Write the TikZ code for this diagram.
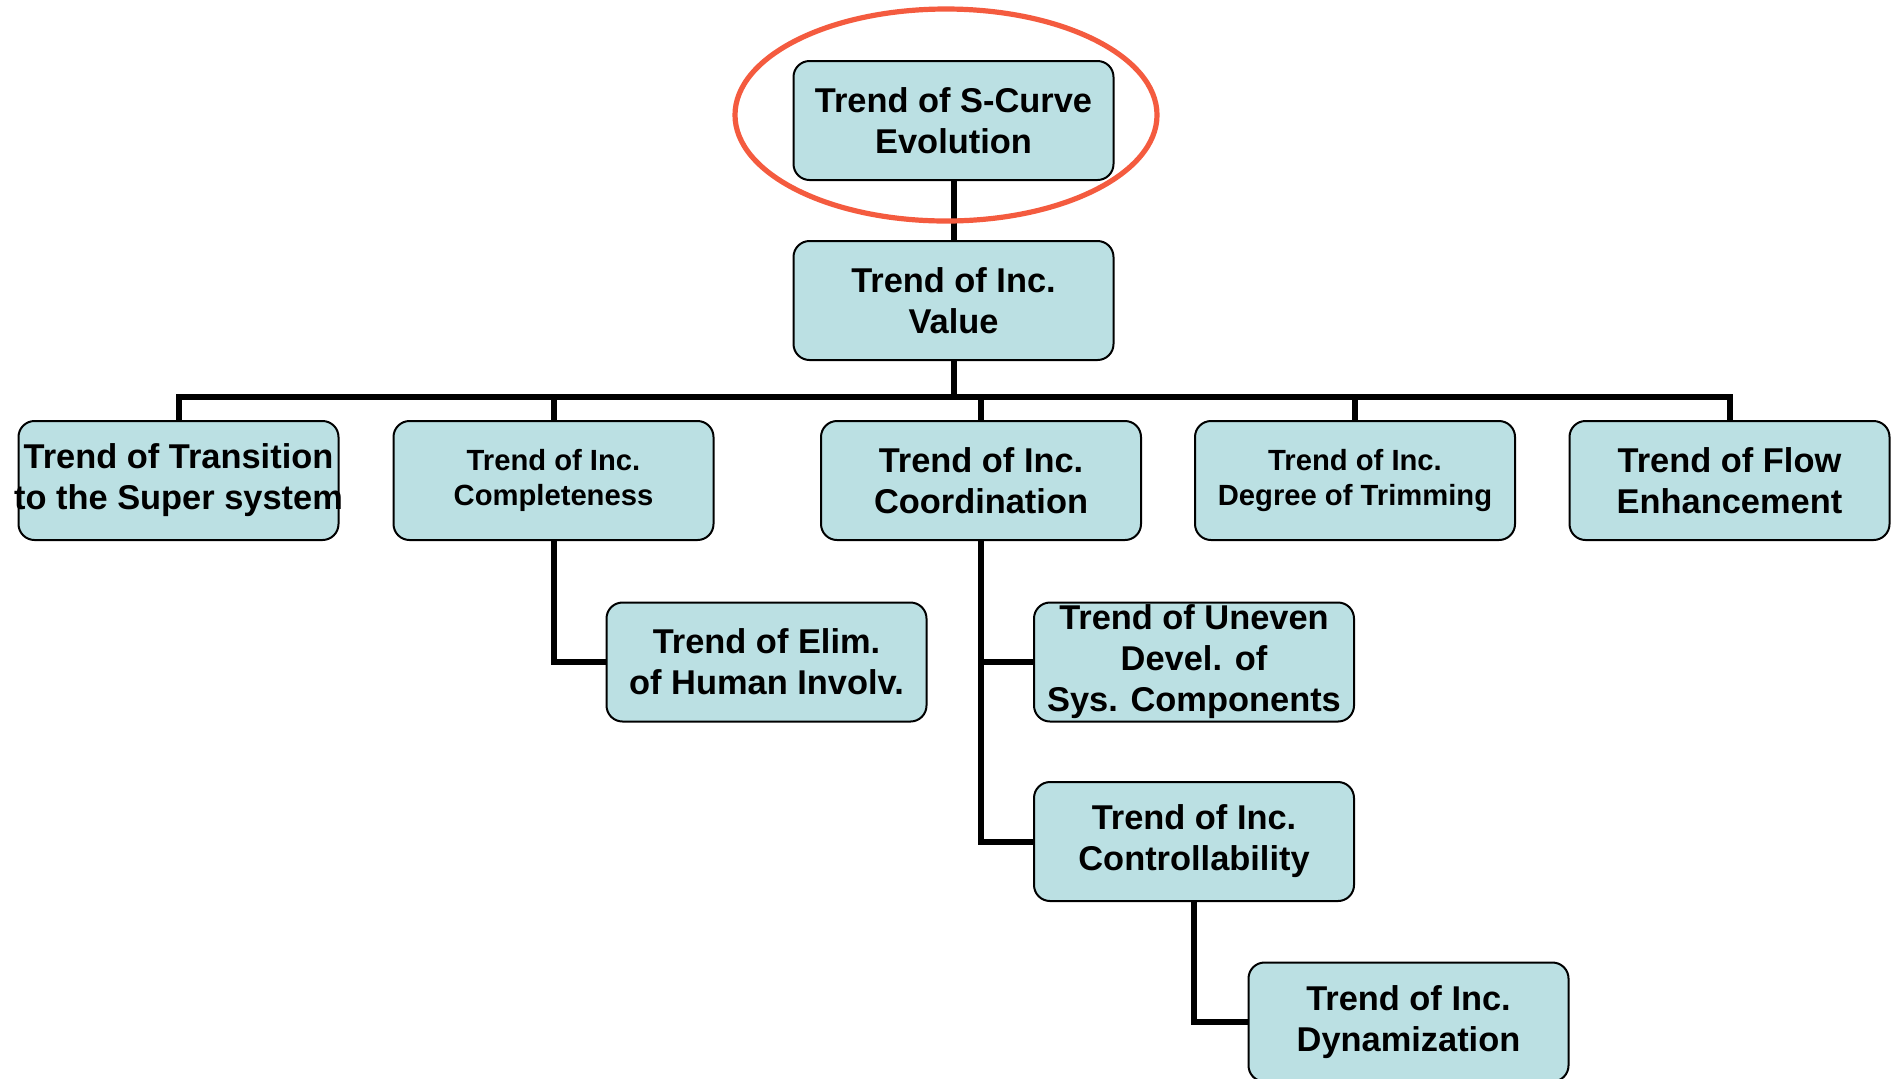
\documentclass[tikz,border=0pt]{standalone}
\usepackage{fontspec}
\setmainfont{Liberation Sans}
\definecolor{boxfill}{HTML}{BBE0E3}
\definecolor{ringred}{HTML}{F45B3F}
\begin{document}
\begin{tikzpicture}[x=0.5pt,y=-0.5pt,
  trendbox/.style={draw=black, line width=1pt, fill=boxfill, rounded corners=8pt,
    minimum width=160pt, minimum height=59.5pt, inner sep=0pt, align=center,
    font=\fontsize{17.2pt}{20.5pt}\selectfont\bfseries},
  smallbox/.style={trendbox, font=\fontsize{14.6pt}{17.5pt}\selectfont\bfseries},
  link/.style={draw=black, line width=3pt, line join=miter},
  ring/.style={draw=ringred, line width=2.6pt}]
\useasboundingbox (0,0) rectangle (1899,1078);
\node[trendbox] (top) at (953.5,120.5) {Trend of S-Curve\\Evolution};
\node[trendbox] (value) at (953.5,300.5) {Trend of Inc.\\Value};
\node[trendbox] (b1) at (178.5,480.5) {\raisebox{-2pt}{\makebox[150pt]{Trend of Transition}}\\\raisebox{-2pt}{\makebox[150pt]{to the Super system}}};
\node[smallbox] (b2) at (553.5,480.5) {\raisebox{-1.5pt}{Trend of Inc.}\\\raisebox{-1.5pt}{Completeness}};
\node[trendbox] (b3) at (981,480.5) {Trend of Inc.\\Coordination};
\node[smallbox] (b4) at (1355,480.5) {\raisebox{-1.5pt}{Trend of Inc.}\\\raisebox{-1.5pt}{Degree of Trimming}};
\node[trendbox] (b5) at (1729.5,480.5) {Trend of Flow\\Enhancement};
\node[trendbox] (elim) at (766.5,662) {Trend of Elim.\\of Human Involv.};
\node[trendbox] (uneven) at (1194,662) {Trend of Uneven\\Devel. of\\Sys. Components};
\node[trendbox] (ctrl) at (1194,841.5) {Trend of Inc.\\Controllability};
\node[trendbox] (dyn) at (1408.5,1022) {Trend of Inc.\\Dynamization};
\coordinate (bus) at (953.5,397);
\draw[link] (top.south) -- (value.north);
\draw[link] (value.south) -- (bus);
\draw[link] (b1.north) |- (bus) -| (b5.north);
\draw[link] (b2.north) -- (b2.north |- bus);
\draw[link] (b3.north) -- (b3.north |- bus);
\draw[link] (b4.north) -- (b4.north |- bus);
\draw[link] (b2.south) |- (elim.west);
\draw[link] (b3.south) |- (ctrl.west);
\draw[link] (b3.south |- uneven.west) -- (uneven.west);
\draw[link] (ctrl.south) |- (dyn.west);
\draw[ring] (946,115) ellipse [x radius=105.5pt, y radius=53pt];
\end{tikzpicture}
\end{document}
